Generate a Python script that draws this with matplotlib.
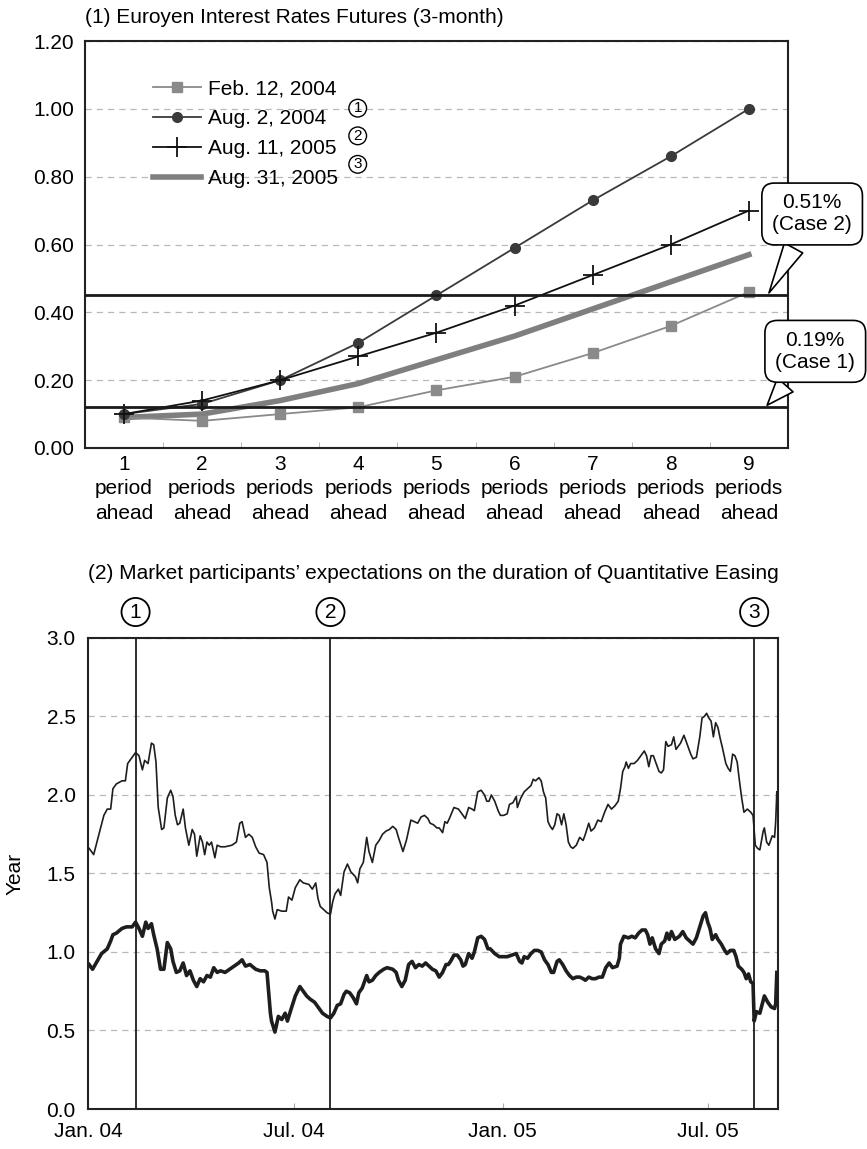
import matplotlib
matplotlib.use('Agg')
import matplotlib.pyplot as plt
import numpy as np
import pandas as pd

plt.rcParams['font.family'] = ['Liberation Sans', 'DejaVu Sans']

# ---- panel (1) data
periods = [1, 2, 3, 4, 5, 6, 7, 8, 9]
period_labels = ['1\nperiod\nahead'] + ['%d\nperiods\nahead' % p for p in periods[1:]]
feb_12_2004 = [0.09, 0.08, 0.10, 0.12, 0.17, 0.21, 0.28, 0.36, 0.46]
aug_2_2004 = [0.10, 0.13, 0.20, 0.31, 0.45, 0.59, 0.73, 0.86, 1.00]
aug_11_2005 = [0.10, 0.14, 0.20, 0.27, 0.34, 0.42, 0.51, 0.60, 0.70]
aug_31_2005 = [0.09, 0.10, 0.14, 0.19, 0.26, 0.33, 0.41, 0.49, 0.57]
case_levels = [0.45, 0.12]
case_text = ['0.51%\n(Case 2)', '0.19%\n(Case 1)']

# ---- panel (2) data (days since 2004-01-01)
upper_days = [1, 5, 9, 14, 17, 20, 22, 25, 30, 33, 35, 39, 42, 45, 48, 50, 53, 56, 58, 60,
              62, 65, 67, 70, 73, 75, 77, 79, 81, 84, 86, 89, 92, 94, 96, 99, 101, 103, 105, 107,
              109, 112, 114, 117, 121, 127, 131, 134, 136, 139, 142, 145, 148, 151, 155, 158, 160, 162, 163, 165,
              167, 171, 175, 177, 180, 183, 187, 190, 195, 198, 201, 203, 205, 208, 211, 214, 216, 218, 221, 223,
              226, 229, 232, 236, 238, 240, 243, 246, 248, 251, 254, 257, 260, 263, 266, 269, 272, 274, 278, 281,
              285, 288, 291, 294, 297, 300, 302, 305, 308, 310, 313, 315, 317, 319, 323, 327, 330, 333, 336, 339,
              341, 344, 347, 350, 352, 354, 356, 359, 362, 364, 367, 370, 372, 375, 378, 379, 382, 385, 388, 391,
              393, 395, 398, 400, 402, 404, 406, 408, 410, 412, 414, 416, 418, 420, 422, 424, 426, 428, 431, 434,
              437, 439, 442, 444, 447, 450, 453, 456, 459, 462, 465, 468, 470, 472, 474, 475, 477, 479, 482, 485,
              488, 491, 493, 495, 497, 499, 501, 504, 506, 508, 510, 512, 515, 517, 519, 521, 523, 526, 529, 532,
              534, 537, 540, 542, 544, 546, 548, 550, 552, 554, 556, 558, 560, 563, 565, 567, 569, 571, 573, 575,
              577, 579, 582, 585, 587, 589, 591, 593, 596, 597, 599, 601, 604, 606, 607, 608]
upper_vals = [1.66, 1.62, 1.73, 1.87, 1.91, 1.91, 2.04, 2.07, 2.09, 2.09, 2.20, 2.24, 2.27, 2.25, 2.16, 2.22, 2.20, 2.33, 2.32, 2.21,
              1.92, 1.78, 1.79, 1.98, 2.03, 1.99, 1.87, 1.81, 1.82, 1.91, 1.79, 1.68, 1.78, 1.75, 1.61, 1.74, 1.70, 1.62, 1.70, 1.68,
              1.70, 1.60, 1.68, 1.67, 1.67, 1.68, 1.70, 1.82, 1.83, 1.73, 1.75, 1.73, 1.67, 1.63, 1.62, 1.57, 1.41, 1.32, 1.26, 1.21,
              1.27, 1.26, 1.26, 1.35, 1.33, 1.41, 1.46, 1.44, 1.43, 1.40, 1.44, 1.34, 1.29, 1.27, 1.25, 1.24, 1.32, 1.37, 1.40, 1.36,
              1.51, 1.56, 1.51, 1.48, 1.44, 1.53, 1.57, 1.73, 1.64, 1.57, 1.68, 1.71, 1.75, 1.77, 1.78, 1.80, 1.78, 1.73, 1.64, 1.71,
              1.84, 1.83, 1.82, 1.86, 1.87, 1.85, 1.82, 1.81, 1.79, 1.79, 1.76, 1.83, 1.82, 1.85, 1.92, 1.91, 1.88, 1.85, 1.92, 1.91,
              1.90, 2.02, 2.03, 2.00, 1.96, 1.96, 2.00, 1.96, 1.90, 1.87, 1.87, 1.88, 1.94, 1.95, 1.99, 1.92, 1.98, 2.02, 2.04, 2.06,
              2.10, 2.09, 2.11, 2.09, 2.02, 1.98, 1.83, 1.80, 1.78, 1.81, 1.88, 1.87, 1.81, 1.88, 1.81, 1.70, 1.67, 1.66, 1.68, 1.73,
              1.71, 1.75, 1.82, 1.77, 1.79, 1.84, 1.83, 1.89, 1.94, 1.91, 1.93, 1.96, 2.04, 2.15, 2.18, 2.21, 2.17, 2.20, 2.20, 2.22,
              2.25, 2.28, 2.25, 2.18, 2.25, 2.25, 2.21, 2.15, 2.14, 2.16, 2.34, 2.31, 2.32, 2.37, 2.29, 2.31, 2.33, 2.38, 2.32, 2.26,
              2.23, 2.24, 2.37, 2.49, 2.50, 2.52, 2.49, 2.47, 2.37, 2.46, 2.43, 2.36, 2.30, 2.20, 2.17, 2.15, 2.26, 2.25, 2.21, 2.09,
              1.98, 1.89, 1.91, 1.89, 1.87, 1.68, 1.66, 1.65, 1.77, 1.79, 1.70, 1.68, 1.74, 1.73, 1.83, 2.02]

lower_days = [1, 4, 8, 12, 17, 20, 22, 25, 30, 34, 39, 42, 45, 48, 51, 53, 56, 58, 61, 64,
              67, 70, 73, 75, 78, 81, 84, 87, 90, 93, 96, 99, 102, 105, 108, 111, 114, 117, 121, 127,
              133, 136, 139, 143, 148, 152, 156, 158, 161, 162, 165, 168, 171, 174, 176, 179, 183, 187, 190, 193,
              196, 200, 204, 207, 211, 214, 217, 220, 223, 226, 228, 231, 234, 237, 239, 242, 246, 248, 251, 254,
              257, 261, 264, 269, 272, 274, 277, 280, 283, 286, 289, 292, 295, 298, 301, 304, 307, 310, 313, 316,
              318, 320, 323, 326, 329, 331, 333, 336, 339, 341, 344, 347, 350, 353, 355, 359, 363, 366, 370, 374,
              378, 381, 383, 385, 388, 391, 394, 397, 400, 403, 406, 409, 411, 414, 416, 419, 422, 425, 428, 431,
              434, 437, 439, 442, 445, 448, 451, 454, 457, 460, 463, 467, 469, 470, 473, 477, 480, 483, 486, 489,
              492, 494, 496, 498, 501, 504, 506, 509, 511, 513, 515, 518, 520, 522, 525, 528, 531, 534, 537, 540,
              543, 545, 547, 549, 551, 554, 556, 559, 562, 564, 567, 570, 572, 574, 577, 579, 581, 583, 585, 587,
              588, 590, 593, 597, 600, 603, 606, 607, 608]
lower_vals = [0.92, 0.89, 0.94, 0.99, 1.02, 1.07, 1.11, 1.12, 1.15, 1.16, 1.16, 1.19, 1.15, 1.10, 1.19, 1.15, 1.18, 1.11, 1.02, 0.89,
              0.89, 1.06, 1.02, 0.94, 0.87, 0.88, 0.93, 0.85, 0.88, 0.82, 0.78, 0.83, 0.81, 0.85, 0.84, 0.90, 0.87, 0.88, 0.87, 0.90,
              0.93, 0.95, 0.91, 0.92, 0.89, 0.88, 0.88, 0.87, 0.61, 0.56, 0.49, 0.59, 0.57, 0.61, 0.56, 0.63, 0.72, 0.78, 0.75, 0.72,
              0.70, 0.68, 0.64, 0.61, 0.59, 0.58, 0.61, 0.66, 0.67, 0.73, 0.75, 0.74, 0.71, 0.67, 0.74, 0.77, 0.85, 0.81, 0.82, 0.85,
              0.87, 0.89, 0.90, 0.89, 0.87, 0.82, 0.78, 0.82, 0.92, 0.94, 0.90, 0.92, 0.91, 0.93, 0.91, 0.89, 0.88, 0.84, 0.87, 0.92,
              0.92, 0.94, 0.98, 0.98, 0.95, 0.91, 0.92, 0.99, 0.96, 1.00, 1.09, 1.10, 1.08, 1.02, 1.02, 0.99, 0.97, 0.97, 0.97, 0.98,
              0.99, 0.94, 0.93, 0.97, 0.96, 0.99, 1.01, 1.01, 1.00, 0.95, 0.92, 0.87, 0.87, 0.94, 0.95, 0.92, 0.88, 0.85, 0.83, 0.84,
              0.84, 0.83, 0.82, 0.84, 0.83, 0.83, 0.84, 0.84, 0.90, 0.93, 0.90, 0.91, 0.96, 1.05, 1.10, 1.09, 1.10, 1.09, 1.12, 1.14,
              1.14, 1.11, 1.05, 1.09, 1.02, 0.99, 1.05, 1.07, 1.12, 1.08, 1.13, 1.08, 1.09, 1.10, 1.13, 1.09, 1.07, 1.05, 1.09, 1.16,
              1.23, 1.25, 1.19, 1.15, 1.08, 1.11, 1.08, 1.05, 1.01, 0.99, 1.01, 1.01, 0.97, 0.91, 0.89, 0.87, 0.83, 0.86, 0.81, 0.80,
              0.56, 0.62, 0.61, 0.72, 0.68, 0.65, 0.64, 0.67, 0.87]

event_dates = ['2004-02-12', '2004-08-02', '2005-08-11']
event_marks = ['1', '2', '3']
date_ticks = ['2004-01-01', '2004-07-01', '2005-01-01', '2005-07-01']
date_tick_labels = ['Jan. 04', 'Jul. 04', 'Jan. 05', 'Jul. 05']

start = pd.Timestamp('2004-01-01')
upper_dates = start + pd.to_timedelta(upper_days, unit='D')
lower_dates = start + pd.to_timedelta(lower_days, unit='D')

fs = 15
fig = plt.figure(figsize=(8.67, 11.49), dpi=100)
grid_kw = dict(color='#b8b8b8', linestyle=(0, (5, 4)), linewidth=0.9)

# ================= panel (1)
ax1 = fig.add_axes([0.098, 0.6101, 0.8108, 0.3542])
ax1.plot(periods, aug_31_2005, color='#7f7f7f', lw=4, label='Aug. 31, 2005', zorder=3)
ax1.plot(periods, feb_12_2004, color='#8a8a8a', lw=1.3, marker='s', ms=7, label='Feb. 12, 2004', zorder=4)
ax1.plot(periods, aug_2_2004, color='#3a3a3a', lw=1.3, marker='o', ms=7, label='Aug. 2, 2004', zorder=4)
ax1.plot(periods, aug_11_2005, color='#111111', lw=1.3, marker='+', ms=14, mew=1.3, label='Aug. 11, 2005', zorder=4)
for lv in case_levels:
    ax1.axhline(lv, color='#1a1a1a', lw=2.0, zorder=5)

ax1.set_xlim(0.5, 9.5)
ax1.set_ylim(0, 1.2)
ax1.set_yticks(np.arange(0, 1.21, 0.2))
ax1.set_yticklabels(['%.2f' % v for v in np.arange(0, 1.21, 0.2)], fontsize=fs)
ax1.set_xticks(periods)
ax1.set_xticklabels(period_labels, fontsize=fs, linespacing=1.36)
ax1.set_xticks(np.arange(1.5, 9, 1), minor=True)
ax1.tick_params(axis='x', which='major', length=0, pad=5)
ax1.tick_params(axis='x', which='minor', direction='in', length=4, color='#aaaaaa')
ax1.tick_params(axis='y', length=0, pad=8)
ax1.grid(axis='y', **grid_kw)
ax1.set_axisbelow(True)
for s in ax1.spines.values():
    s.set_linewidth(1.5)
    s.set_color('#222222')

h, l = ax1.get_legend_handles_labels()
order = [1, 2, 3, 0]
ax1.legend([h[i] for i in order], [l[i] for i in order], loc='upper left',
           bbox_to_anchor=(0.07, 0.952), frameon=False, fontsize=fs,
           handlelength=2.3, handletextpad=0.35, labelspacing=0.53)

circ_small = dict(boxstyle='circle,pad=0.12', fc='none', ec='black', lw=1.0)
for mark, yy in zip(event_marks, [0.835, 0.767, 0.697]):
    ax1.text(0.388, yy, mark, transform=ax1.transAxes, fontsize=11, ha='center', va='center', bbox=circ_small)

box_kw = dict(boxstyle='round,pad=0.5,rounding_size=0.6', fc='white', ec='black', lw=1.2)
arrow_kw = dict(arrowstyle='wedge,tail_width=1.0,shrink_factor=0.5', fc='white', ec='black', lw=1.2)
ax1.annotate(case_text[0], xy=(9.24, case_levels[0]), xytext=(9.81, 0.69), fontsize=fs,
             ha='center', va='center', bbox=box_kw, arrowprops=arrow_kw, annotation_clip=False, zorder=10)
ax1.annotate(case_text[1], xy=(9.21, case_levels[1]), xytext=(9.85, 0.285), fontsize=fs,
             ha='center', va='center', bbox=box_kw, arrowprops=arrow_kw, annotation_clip=False, zorder=10)

fig.text(0.098, 0.985, '(1) Euroyen Interest Rates Futures (3-month)', fontsize=fs, ha='left', va='center')

# ================= panel (2)
ax2 = fig.add_axes([0.1015, 0.0348, 0.7958, 0.410])
ax2.plot(upper_dates, upper_vals, color='#1e1e1e', lw=1.2, zorder=3)
ax2.plot(lower_dates, lower_vals, color='#1e1e1e', lw=2.6, zorder=3)
for d, mark in zip(event_dates, event_marks):
    dt = pd.Timestamp(d)
    ax2.axvline(dt, color='#1e1e1e', lw=1.3, zorder=4)
    ax2.text(dt, 1.055, mark, transform=ax2.get_xaxis_transform(), fontsize=fs,
             ha='center', va='center', bbox=dict(boxstyle='circle,pad=0.22', fc='none', ec='black', lw=1.3))

ax2.set_xlim(pd.Timestamp('2004-01-01'), pd.Timestamp('2005-09-01'))
ax2.set_ylim(0, 3.0)
ax2.set_yticks(np.arange(0, 3.01, 0.5))
ax2.set_yticklabels(['%.1f' % v for v in np.arange(0, 3.01, 0.5)], fontsize=fs)
ax2.set_xticks([pd.Timestamp(d) for d in date_ticks])
ax2.set_xticklabels(date_tick_labels, fontsize=fs)
ax2.tick_params(axis='x', direction='in', length=4, color='#aaaaaa', pad=9)
ax2.tick_params(axis='y', length=0, pad=9)
ax2.set_ylabel('Year', fontsize=fs, labelpad=16)
ax2.grid(axis='y', **grid_kw)
ax2.set_axisbelow(True)
for s in ax2.spines.values():
    s.set_linewidth(1.5)
    s.set_color('#222222')

fig.text(0.1015 + 0.7958 / 2, 0.5013,
         "(2) Market participants\u2019 expectations on the duration of Quantitative Easing",
         fontsize=fs, ha='center', va='center')

fig.savefig('out.png', dpi=100)
